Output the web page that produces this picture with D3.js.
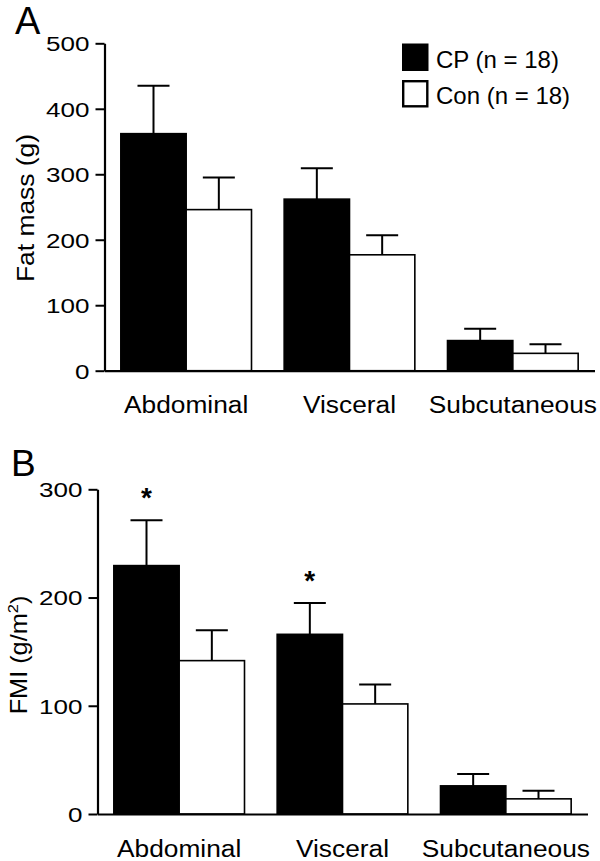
<!DOCTYPE html>
<html>
<head>
<meta charset="utf-8">
<script src="https://cdn.jsdelivr.net/npm/d3@7"></script>
<style>
  html, body { margin: 0; padding: 0; background: #fff; }
  svg { display: block; }
</style>
</head>
<body>
<script>
// ---------- data ----------
const categories = ["Abdominal", "Visceral", "Subcutaneous"];
const groups = ["CP", "Con"];
const legendLabels = ["CP (n = 18)", "Con (n = 18)"];

// Panel A: fat mass (g)
const massCP = [362, 262, 46];
const massCPErr = [73, 47, 18];
const massCon = [246, 177, 26.5];
const massConErr = [49, 30, 14];
const massTicks = [0, 100, 200, 300, 400, 500];

// Panel B: FMI (g/m^2)
const fmiCP = [229.5, 166, 26];
const fmiCPErr = [42, 29, 11];
const fmiCon = [141.7, 101.7, 14];
const fmiConErr = [28, 18, 7.5];
const fmiTicks = [0, 100, 200, 300];
const fmiSignificant = [true, true, false];

// ---------- drawing ----------
const W = 600, H = 861;
const FONT = "'Liberation Sans', Arial, Helvetica, sans-serif";
const svg = d3.select("body").append("svg").attr("width", W).attr("height", H);

function buildRows(cp, cpErr, con, conErr) {
  return categories.map((c, i) => ({
    category: c,
    values: [
      { group: "CP", value: cp[i], err: cpErr[i] },
      { group: "Con", value: con[i], err: conErr[i] }
    ]
  }));
}

function drawPanel(opts) {
  const g = svg.append("g");
  const x0 = d3.scaleBand().domain(categories).range(opts.xRange).paddingInner(0.2).paddingOuter(0.1);
  const x1 = d3.scaleBand().domain(groups).range([0, x0.bandwidth()]).padding(0);
  const y = d3.scaleLinear().domain([0, d3.max(opts.ticks)]).range(opts.yRange);
  const rows = buildRows(opts.cp, opts.cpErr, opts.con, opts.conErr);

  // bars
  const grp = g.selectAll("g.cat").data(rows).join("g").attr("class", "cat")
    .attr("transform", d => `translate(${x0(d.category)},0)`);
  grp.selectAll("rect").data(d => d.values).join("rect")
    .attr("x", d => x1(d.group))
    .attr("width", x1.bandwidth())
    .attr("y", d => y(d.value))
    .attr("height", d => y(0) - y(d.value))
    .attr("fill", d => d.group === "CP" ? "#000" : "#fff")
    .attr("stroke", "#000")
    .attr("stroke-width", 1.6);

  // error bars (upper only)
  const eb = grp.selectAll("g.err").data(d => d.values).join("g").attr("class", "err");
  eb.append("line")
    .attr("x1", d => x1(d.group) + x1.bandwidth() / 2)
    .attr("x2", d => x1(d.group) + x1.bandwidth() / 2)
    .attr("y1", d => y(d.value))
    .attr("y2", d => y(d.value + d.err))
    .attr("stroke", "#000")
    .attr("stroke-width", 2);
  eb.append("line")
    .attr("x1", d => x1(d.group) + x1.bandwidth() / 2 - 16)
    .attr("x2", d => x1(d.group) + x1.bandwidth() / 2 + 16)
    .attr("y1", d => y(d.value + d.err))
    .attr("y2", d => y(d.value + d.err))
    .attr("stroke", "#000")
    .attr("stroke-width", 2);

  // significance
  if (opts.sig) {
    grp.filter((d, i) => opts.sig[i]).append("text")
      .attr("x", x1("CP") + x1.bandwidth() / 2)
      .attr("y", d => y(d.values[0].value + d.values[0].err) - 13)
      .attr("text-anchor", "middle")
      .attr("font-family", FONT)
      .attr("font-size", 28)
      .attr("font-weight", "bold")
      .text("*");
  }

  // y axis
  const ya = g.append("g").attr("transform", `translate(${opts.xRange[0]},0)`)
    .call(d3.axisLeft(y).tickValues(opts.ticks).tickSize(9).tickSizeOuter(0).tickFormat(d3.format("d")));
  ya.select(".domain").attr("stroke", "#000").attr("stroke-width", 2.2);
  ya.selectAll(".tick line").attr("stroke", "#000").attr("stroke-width", 2);
  ya.selectAll(".tick text")
    .attr("x", 0).attr("dy", "0.36em")
    .attr("transform", "translate(-15,0) scale(1.27,1)")
    .attr("text-anchor", "end")
    .attr("font-family", FONT).attr("font-size", 20.5).attr("fill", "#000");

  // x axis
  const xa = g.append("g").attr("transform", `translate(0,${y(0)})`)
    .call(d3.axisBottom(x0).tickSize(0).tickSizeOuter(0));
  xa.select(".domain").attr("stroke", "#000").attr("stroke-width", 2.2);
  xa.selectAll(".tick text")
    .attr("y", 0).attr("dy", 0)
    .attr("transform", `translate(0,${opts.catOffset}) scale(1.12,1)`)
    .attr("text-anchor", "middle")
    .attr("font-family", FONT).attr("font-size", 23.5).attr("fill", "#000");

  // y title
  const yt = g.append("text")
    .attr("transform", `translate(${opts.titleX},${opts.titleY}) rotate(-90) scale(1.1,1)`)
    .attr("text-anchor", "middle")
    .attr("font-family", FONT).attr("font-size", opts.titleSize).attr("fill", "#000");
  opts.title(yt);

  // panel letter
  g.append("text")
    .attr("x", opts.letterPos[0]).attr("y", opts.letterPos[1])
    .attr("font-family", FONT).attr("font-size", opts.letterSize).attr("fill", "#000")
    .text(opts.letter);

  return g;
}

drawPanel({
  letter: "A", letterPos: [15, 34], letterSize: 38,
  xRange: [104.5, 594.5], yRange: [370.7, 43.3],
  ticks: massTicks,
  cp: massCP, cpErr: massCPErr, con: massCon, conErr: massConErr,
  catOffset: 42,
  titleX: 33.5, titleY: 208, titleSize: 24,
  title: t => t.text("Fat mass (g)")
});

drawPanel({
  letter: "B", letterPos: [11, 476], letterSize: 37,
  xRange: [97.5, 587.5], yRange: [814, 489.3],
  ticks: fmiTicks,
  cp: fmiCP, cpErr: fmiCPErr, con: fmiCon, conErr: fmiConErr,
  sig: fmiSignificant,
  catOffset: 43,
  titleX: 27, titleY: 655, titleSize: 23,
  title: t => {
    t.append("tspan").text("FMI (g/m");
    t.append("tspan").attr("font-size", 15).attr("dy", -9).text("2");
    t.append("tspan").attr("dy", 9).text(")");
  }
});

// legend
const legend = svg.append("g").attr("transform", "translate(402,43.5)");
const li = legend.selectAll("g").data(legendLabels).join("g")
  .attr("transform", (d, i) => `translate(0,${i * 36.5})`);
li.append("rect")
  .attr("x", (d, i) => i === 0 ? 0 : 1.2)
  .attr("y", (d, i) => i === 0 ? 0 : 1.2)
  .attr("width", (d, i) => i === 0 ? 26.5 : 24.1)
  .attr("height", (d, i) => i === 0 ? 27.5 : 25.1)
  .attr("fill", (d, i) => i === 0 ? "#000" : "#fff")
  .attr("stroke", "#000")
  .attr("stroke-width", (d, i) => i === 0 ? 0 : 2.4);
li.append("text")
  .attr("x", 34).attr("y", 24)
  .attr("font-family", FONT).attr("font-size", 24).attr("fill", "#000")
  .text(d => d);
</script>
</body>
</html>
